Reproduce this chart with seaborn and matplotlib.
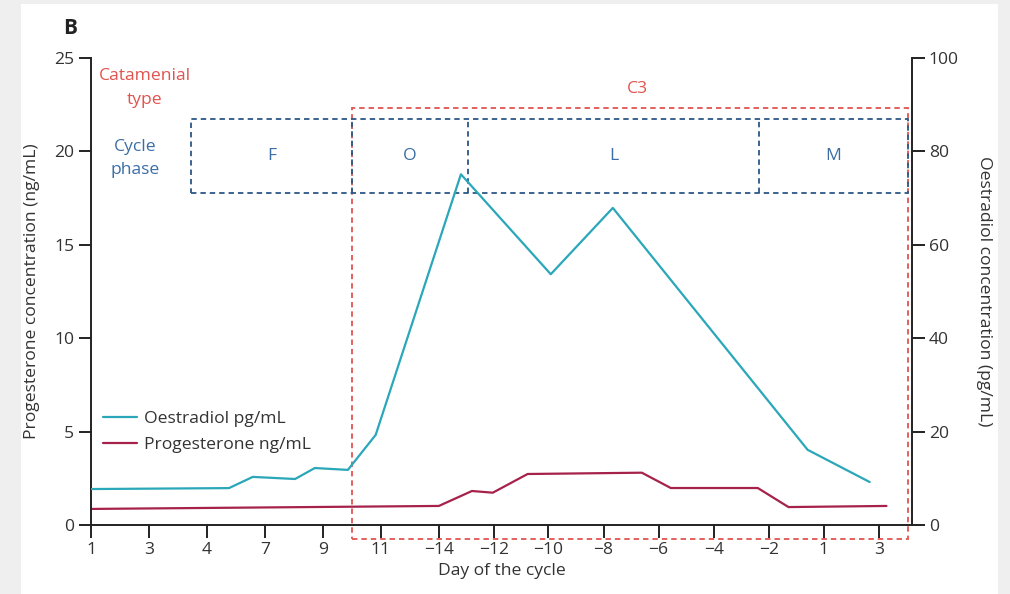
import matplotlib
matplotlib.use("Agg")
import matplotlib.pyplot as plt
from matplotlib.patches import Rectangle
from matplotlib.lines import Line2D
import seaborn as sns
import pandas as pd

# ---- data -------------------------------------------------------------
# x positions are on a continuous "day slot" scale; tick_pos gives where
# each day label sits on that scale.
tick_pos = [0, 1, 2, 3, 4, 5, 6, 6.95, 7.88, 8.84, 9.79, 10.74, 11.69, 12.64, 13.59]
tick_labels = ["1", "3", "4", "7", "9", "11", "\u221214", "\u221212", "\u221210",
               "\u22128", "\u22126", "\u22124", "\u22122", "1", "3"]

oest_x = [0, 2.38, 2.79, 3.52, 3.86, 4.43, 4.91, 6.38, 7.93, 9.0, 12.36, 13.43]
oest_y = [7.7, 7.9, 10.3, 9.85, 12.2, 11.8, 19.3, 75.1, 53.7, 67.9, 16.1, 9.2]   # pg/mL

prog_x = [0, 6.0, 6.57, 6.93, 7.53, 9.5, 10.0, 11.5, 12.03, 13.72]
prog_y = [0.86, 1.02, 1.82, 1.73, 2.73, 2.80, 1.98, 1.98, 0.96, 1.02]          # ng/mL

phase_labels = ["F", "O", "L", "M"]
phase_bounds = [1.72, 4.5, 6.5, 11.52, 14.09]
catamenial_span = (4.5, 14.09)
catamenial_label = "C3"

# ---- style ------------------------------------------------------------
sns.set_theme(style="ticks")
plt.rcParams["font.family"] = ["Open Sans", "DejaVu Sans"]
FS = 12.6
TXT = "#333333"
TEAL = "#2aa7b8"
CRIMSON = "#a6224b"
NAVY = "#2c5786"
RED = "#e0544f"
PHASE_TXT = "#3b6ea5"
DASH = (0, (3, 2.2))

fig = plt.figure(figsize=(10.1, 5.94), dpi=100, facecolor="#efefef")
fig.patches.append(Rectangle((21 / 1010, 0), (998 - 21) / 1010, 1 - 4 / 594,
                             transform=fig.transFigure, facecolor="white",
                             edgecolor="none", zorder=-10))

ax = fig.add_axes([91 / 1010, 1 - 525 / 594, (912 - 91) / 1010, (525 - 58) / 594])
ax.set_facecolor("none")
ax2 = ax.twinx()

prog_df = pd.DataFrame({"pos": prog_x, "value": prog_y})
oest_df = pd.DataFrame({"pos": oest_x, "value": oest_y})
sns.lineplot(data=prog_df, x="pos", y="value", ax=ax, color=CRIMSON, lw=1.6,
             sort=False, estimator=None)
sns.lineplot(data=oest_df, x="pos", y="value", ax=ax2, color=TEAL, lw=1.6,
             sort=False, estimator=None)

ax.set_xlim(0, 14.16)
ax.set_ylim(0, 25)
ax2.set_ylim(0, 100)
ax.set_yticks([0, 5, 10, 15, 20, 25])
ax2.set_yticks([0, 20, 40, 60, 80, 100])
ax.set_xticks(tick_pos)
ax.set_xticklabels(tick_labels)

for a in (ax, ax2):
    a.spines["top"].set_visible(False)
    for s in a.spines.values():
        s.set_linewidth(1.4)
        s.set_color("#222222")
    a.tick_params(length=9, width=1.4, color="#222222", labelsize=FS,
                  labelcolor=TXT, pad=3)
ax.spines["right"].set_visible(False)
ax2.spines["left"].set_visible(False)
ax2.spines["bottom"].set_visible(False)

ax.set_xlabel("Day of the cycle", fontsize=FS, color=TXT, labelpad=4)
ax.set_ylabel("Progesterone concentration (ng/mL)", fontsize=FS, color=TXT, labelpad=10)
ax2.set_ylabel("Oestradiol concentration (pg/mL)", fontsize=FS, color=TXT,
               rotation=270, labelpad=24)

# catamenial-type box
c0, c1 = catamenial_span
ax.add_patch(Rectangle((c0, -0.75), c1 - c0, 22.32 + 0.75, fill=False,
                       edgecolor=RED, lw=1.3, ls=DASH, clip_on=False, zorder=1))
ax.text((c0 + c1) / 2 + 0.13, 23.35, catamenial_label, color=RED, fontsize=FS,
        ha="center", va="center")

# cycle-phase boxes: one outer frame plus dashed dividers
ytop, ybot = 21.73, 17.79
ax.add_patch(Rectangle((phase_bounds[0], ybot), phase_bounds[-1] - phase_bounds[0],
                       ytop - ybot, fill=False, edgecolor=NAVY, lw=1.3, ls=DASH,
                       clip_on=False, zorder=2))
for b in phase_bounds[1:-1]:
    ax.plot([b, b], [ybot, ytop], color=NAVY, lw=1.3, ls=DASH, zorder=2,
            clip_on=False)
for i, lab in enumerate(phase_labels):
    a0, a1 = phase_bounds[i], phase_bounds[i + 1]
    ax.text((a0 + a1) / 2, (ytop + ybot) / 2, lab, color=PHASE_TXT,
            fontsize=FS, ha="center", va="center")

ax.text(0.93, 23.4, "Catamenial\ntype", color=RED, fontsize=FS, ha="center",
        va="center", linespacing=1.65)
ax.text(0.76, 19.6, "Cycle\nphase", color=PHASE_TXT, fontsize=FS, ha="center",
        va="center", linespacing=1.6)

fig.text(70 / 1010, 1 - 28 / 594, "B", fontsize=15, fontweight="bold",
         color="#222222", ha="center", va="center")

handles = [Line2D([], [], color=TEAL, lw=1.6), Line2D([], [], color=CRIMSON, lw=1.6)]
ax.legend(handles, ["Oestradiol pg/mL", "Progesterone ng/mL"], loc="upper left",
          bbox_to_anchor=(0.0, 0.27), frameon=False, fontsize=FS,
          handlelength=1.9, handletextpad=0.4, labelspacing=0.55,
          borderaxespad=0.3, labelcolor=TXT)

fig.savefig("out.png", dpi=100, facecolor=fig.get_facecolor())
